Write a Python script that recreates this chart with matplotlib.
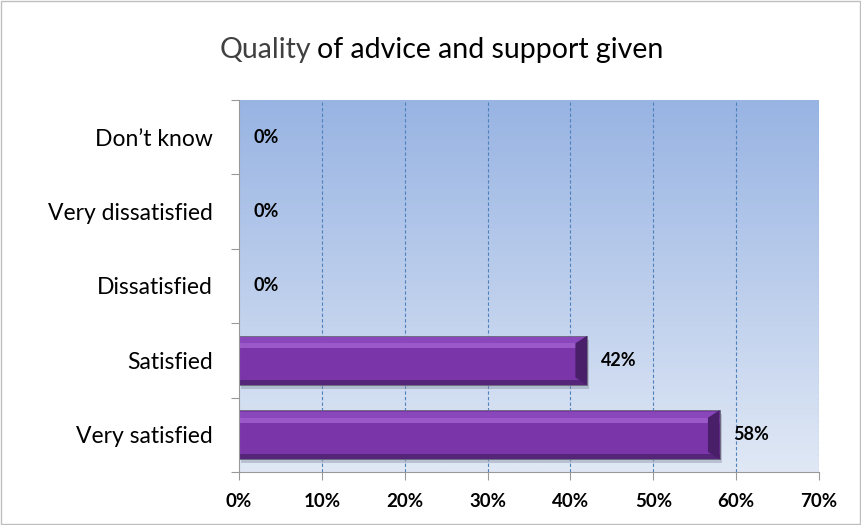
import numpy as np
import matplotlib.pyplot as plt
from matplotlib.patches import Rectangle, Polygon
from matplotlib.ticker import PercentFormatter

# data
categories = ["Very satisfied", "Satisfied", "Dissatisfied", "Very dissatisfied", "Don\u2019t know"]
shares = [58, 42, 0, 0, 0]
x_ticks = [0, 10, 20, 30, 40, 50, 60, 70]

plt.rcParams["font.family"] = ["Lato", "DejaVu Sans"]

fig = plt.figure(figsize=(8.61, 5.25), dpi=100)
fig.patches.append(Rectangle((0.001, 0.001), 0.998, 0.998, transform=fig.transFigure,
                             fill=False, edgecolor="#bfbfbf", lw=1))
ax = fig.add_axes([0.2776, 0.101, 0.6736, 0.7085])

# gradient plot area
grad = np.linspace(0, 1, 256).reshape(-1, 1)
top_c = np.array([0x98, 0xb4, 0xe3]) / 255
bot_c = np.array([0xe0, 0xe8, 0xf5]) / 255
img = top_c * (1 - grad[..., None]) + bot_c * grad[..., None]
ax.imshow(img, extent=[0, 70, -0.5, 4.5], aspect="auto", origin="upper", zorder=0)

ax.set_xlim(0, 70)
ax.set_ylim(-0.5, 4.5)

for x in x_ticks[1:]:
    ax.axvline(x, color="#4f81bd", ls=(0, (3, 2)), lw=0.8, zorder=1)

h = 0.66
y = np.arange(len(categories))
for yi, v in zip(y, shares):
    if v <= 0:
        continue
    top, bot = yi + h / 2, yi - h / 2
    # shadow
    ax.add_patch(Rectangle((0.3, bot - 0.05), v, h, color="#8a93a8", alpha=0.45, lw=0, zorder=2))
    ax.barh(yi, v, height=h, color="#7a35a8", edgecolor="#6a6a7a", lw=0.6, zorder=3)
    # bevel: light top band, darker bottom band, dark right end
    ax.add_patch(Rectangle((0, top - 0.17), v, 0.07, color="#9a58c8", lw=0, zorder=4))
    ax.add_patch(Rectangle((0, top - 0.10), v, 0.08, color="#8a46bb", lw=0, zorder=4))
    ax.add_patch(Rectangle((0, bot), v, 0.07, color="#55257a", lw=0, zorder=4))
    ax.add_patch(Polygon([(v, top), (v, bot), (v - 1.4, bot + 0.1), (v - 1.4, top - 0.1)],
                         closed=True, color="#4a1f6a", lw=0, zorder=4))

for yi, v in zip(y, shares):
    ax.text(v + 1.7, yi, f"{v}%", va="center", ha="left", fontsize=13,
            fontweight="bold", color="black", zorder=5)

ax.set_yticks(np.arange(-0.5, 5, 1), minor=False)
ax.set_yticklabels([])
ax.set_yticks(y, minor=True)
ax.set_yticklabels(categories, minor=True, fontsize=16.5)
ax.tick_params(axis="y", which="minor", length=0, pad=19)
ax.tick_params(axis="y", which="major", length=6, color="#999999", direction="out")

ax.set_xticks(x_ticks)
ax.xaxis.set_major_formatter(PercentFormatter(decimals=0))
ax.tick_params(axis="x", length=6, color="#999999", labelsize=13.5, pad=9)
for lab in ax.get_xticklabels():
    lab.set_fontweight("bold")

for side in ["top", "right"]:
    ax.spines[side].set_visible(False)
for side in ["left", "bottom"]:
    ax.spines[side].set_color("#999999")
    ax.spines[side].set_zorder(6)

t1 = fig.text(0.2555, 0.905, "Quality", fontsize=20.5, color="#404040", ha="left", va="center")
fig.canvas.draw()
bb = t1.get_window_extent()
fig.text(bb.x1 / fig.bbox.width + 0.006, 0.905, "of advice and support given",
         fontsize=20.5, color="black", ha="left", va="center")

fig.savefig("out.png", dpi=100)
